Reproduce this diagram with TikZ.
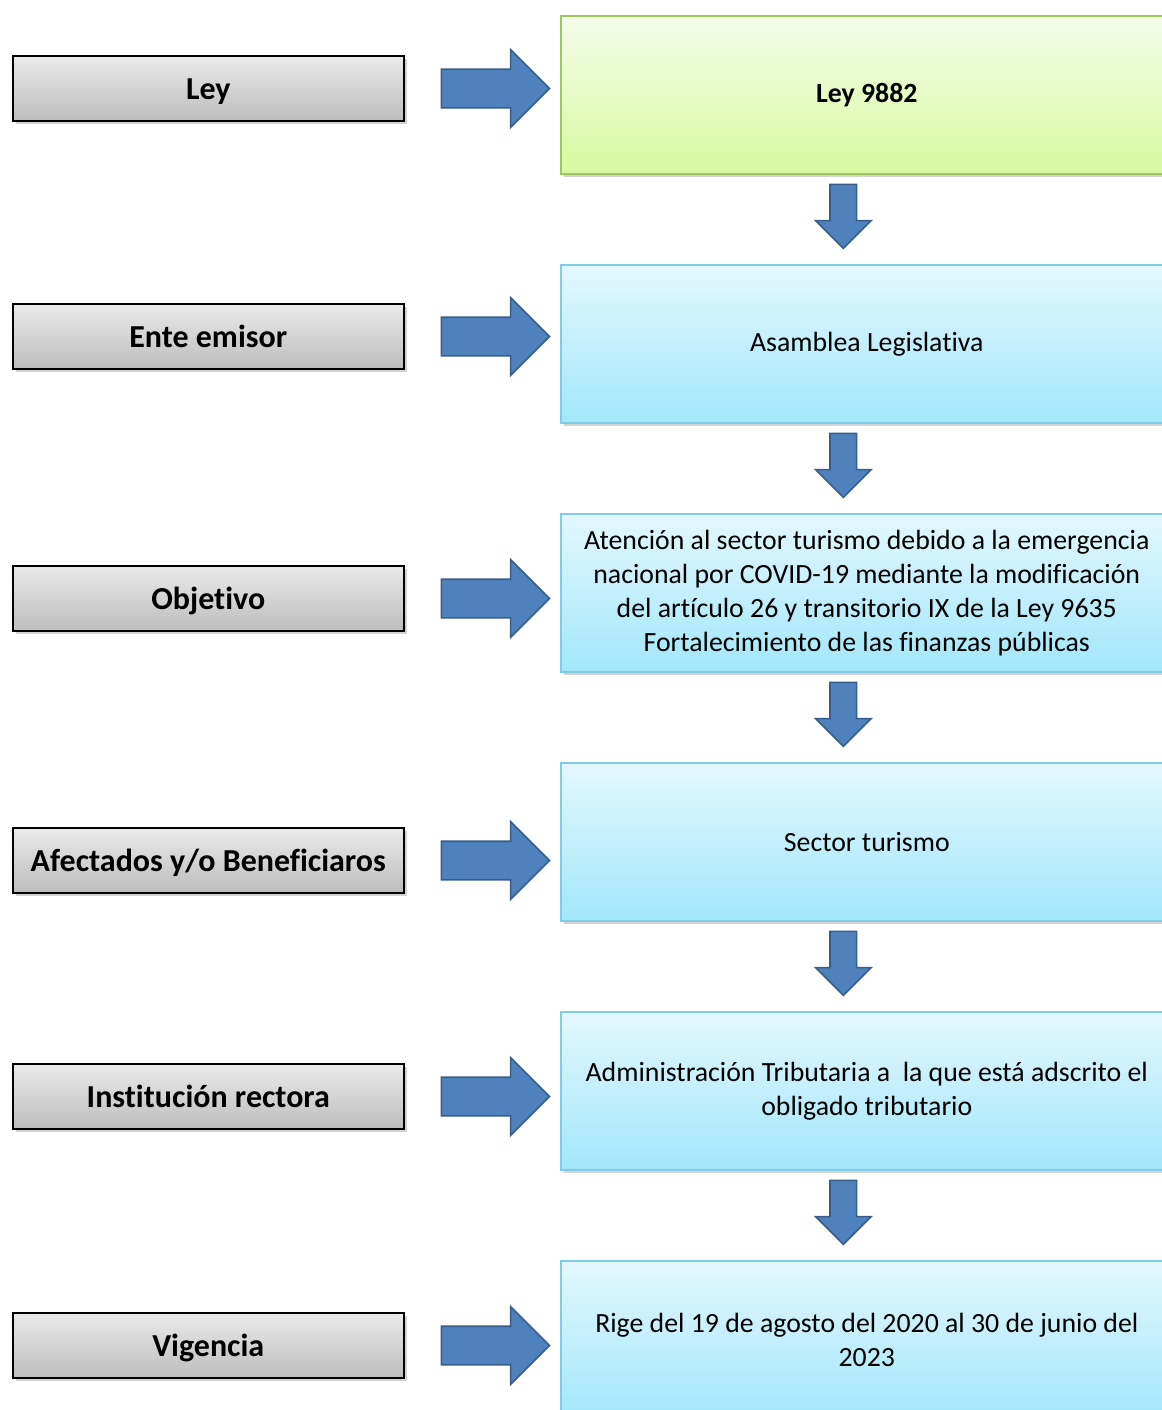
\documentclass[tikz,border=0pt]{standalone}
\usepackage{fontspec}
\setmainfont{Carlito}[Ligatures={NoCommon}]
\usetikzlibrary{shapes.arrows,shadows,calc}

\definecolor{grisclaro}{HTML}{EAEAEA}
\definecolor{grisoscuro}{HTML}{BDBDBD}
\definecolor{verdeclaro}{HTML}{F4FDEA}
\definecolor{verdeoscuro}{HTML}{D6F9A0}
\definecolor{verdeborde}{HTML}{9CC85E}
\definecolor{celesteclaro}{HTML}{E3F7FD}
\definecolor{celesteoscuro}{HTML}{A2E7FA}
\definecolor{celesteborde}{HTML}{7ECCE6}
\definecolor{azulflecha}{HTML}{4F81BD}
\definecolor{azulborde}{HTML}{385D8A}

\begin{document}
\begin{tikzpicture}[x=0.5pt,y=-0.5pt,
    sombra/.style={drop shadow={shadow xshift=1.5pt,shadow yshift=-1.5pt,opacity=0.35}},
    etiqueta/.style={draw=black,line width=0.8pt,top color=grisclaro,bottom color=grisoscuro,
        minimum width=195.5pt,minimum height=32.5pt,inner sep=0pt,sombra,
        text height=13pt,text depth=1.7pt,
        font=\fontsize{16}{19}\selectfont\bfseries},
    cuadro/.style={draw=celesteborde,line width=0.8pt,top color=celesteclaro,bottom color=celesteoscuro,
        minimum width=306pt,minimum height=79pt,inner sep=0pt,align=center,sombra,
        font=\fontsize{13.9}{17}\selectfont},
    flechader/.style={single arrow,draw=azulborde,fill=azulflecha,line width=0.8pt,inner sep=0pt,
        text height=9.25pt,text depth=9.25pt,minimum height=54pt,single arrow head extend=9.75pt},
    flechaabajo/.style={single arrow,draw=azulborde,fill=azulflecha,line width=0.8pt,inner sep=0pt,
        text height=6.25pt,text depth=6.25pt,minimum height=32pt,single arrow head extend=7.25pt,rotate=-90}
    ]
    \useasboundingbox (0,0) rectangle (1162,1410);

    % Columna izquierda
    \foreach \n/\y/\txt in {
        1/88.5/Ley,
        2/336.5/Ente emisor,
        3/598.5/Objetivo,
        4/860.5/{Afectados y/o Beneficiaros},
        5/1096.5/Institución rectora,
        6/1345.5/Vigencia%
        } {
        \node[etiqueta,anchor=west] (l\n) at (12,\y) {\txt};
        \node[flechader,anchor=tail] (f\n) at ($(l\n.east)+(36,0)$) {};
    }

    % Columna derecha
    \node[cuadro,anchor=north west,draw=verdeborde,top color=verdeclaro,bottom color=verdeoscuro]
        (r1) at (560,15) {\bfseries Ley 9882};
    \foreach \n/\y/\txt in {
        2/264/Asamblea Legislativa,
        3/513/{Atención al sector turismo debido a la emergencia\\nacional por COVID-19 mediante la modificación\\del artículo 26 y transitorio IX de la Ley 9635\\Fortalecimiento de las finanzas públicas},
        4/762/Sector turismo,
        5/1011/{Administración Tributaria a \ la que está adscrito el\\obligado tributario},
        6/1260/{Rige del 19 de agosto del 2020 al 30 de junio del\\2023}%
        } {
        \node[cuadro,anchor=north west] (r\n) at (560,\y) {\txt};
    }

    % Flechas hacia abajo
    \foreach \a/\b in {1/2,2/3,3/4,4/5,5/6} {
        \node[flechaabajo,anchor=tail] (d\a) at ($(r\a.south)+(-23.5,9)$) {};
    }
\end{tikzpicture}
\end{document}
